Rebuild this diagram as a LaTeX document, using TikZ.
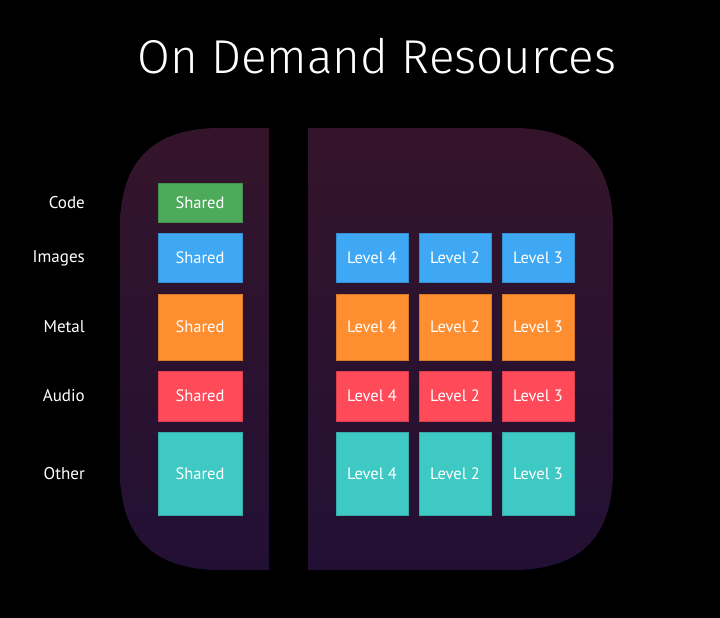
\documentclass[tikz,border=0pt]{standalone}
\usepackage{fontspec}
\setmainfont{PT Sans}
\newfontfamily\titlefont{Fira Sans Light}
\definecolor{topc}{RGB}{52,20,42}
\definecolor{botc}{RGB}{34,16,52}
\definecolor{cgreen}{RGB}{76,170,90}
\definecolor{cblue}{RGB}{62,168,245}
\definecolor{corange}{RGB}{255,142,48}
\definecolor{cred}{RGB}{255,74,90}
\definecolor{cteal}{RGB}{63,201,196}
\tikzset{
  box/.style={draw=#1!85!black, fill=#1, line width=0.6pt, text=white, inner sep=0pt,
    font=\fontsize{16.5}{19}\selectfont},
  rowlabel/.style={text=white, anchor=east, inner sep=0pt, font=\fontsize{17}{20}\selectfont},
}
\begin{document}
\begin{tikzpicture}[x=1pt,y=-1pt]
\useasboundingbox (0,0) rectangle (720,618);
\fill[black] (0,0) rectangle (720,618);
\shade[top color=topc, bottom color=botc]
  (220,128) -- (513,128) .. controls (580,128) and (613,161) .. (613,228)
  -- (613,470) .. controls (613,537) and (580,570) .. (513,570)
  -- (220,570) .. controls (153,570) and (120,537) .. (120,470)
  -- (120,228) .. controls (120,161) and (153,128) .. (220,128) -- cycle;
\fill[black] (269,120) rectangle (308,580);
\node[text=white, font=\titlefont\fontsize{47.5}{56}\selectfont] (title) at (377,56) {On Demand Resources};
% rows: y center, height
\foreach \nm/\lab/\y/\h/\c in {code/Code/202.5/39/cgreen, images/Images/258/49/cblue, metal/Metal/327/66/corange, audio/Audio/396/50/cred, other/Other/473.5/83/cteal}{
  \node[rowlabel] (l-\nm) at (85,\y) {\lab};
  \node[box=\c, minimum width=84pt, minimum height=\h pt] (s-\nm) at (200,\y) {Shared};
}
\foreach \nm/\y/\h/\c in {images/258/49/cblue, metal/327/66/corange, audio/396/50/cred, other/473.5/83/cteal}{
  \node[box=\c, minimum width=72pt, minimum height=\h pt] (a-\nm) at (372,\y) {Level 4};
  \node[box=\c, minimum width=72pt, minimum height=\h pt] (b-\nm) at (455,\y) {Level 2};
  \node[box=\c, minimum width=72pt, minimum height=\h pt] (c-\nm) at (538,\y) {Level 3};
}
\end{tikzpicture}
\end{document}
